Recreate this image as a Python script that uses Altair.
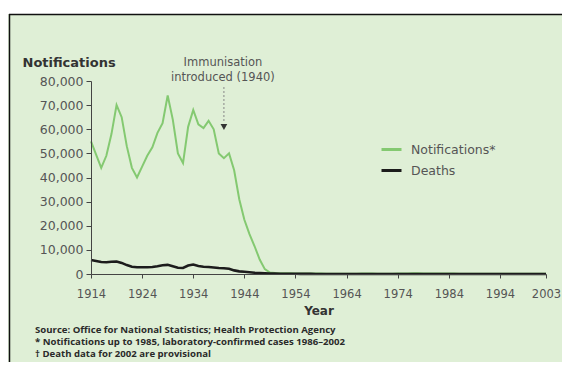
import altair as alt
import pandas as pd

# ---------------- data ----------------
years = list(range(1914, 2004))

notifications = [
    55000, 49500, 44000, 49000, 58000, 70000, 65000, 53000, 44000, 40000,   # 1914-1923
    44500, 49000, 52500, 58500, 62500, 74000, 64000, 50000, 46000, 61000,   # 1924-1933
    68000, 62000, 60500, 63500, 60000, 50000, 48000, 50000, 43000, 31000,   # 1934-1943
    22500, 16500, 11500, 6000, 2000, 600, 400, 350, 300, 300,               # 1944-1953
    250, 250, 200, 200, 200, 200, 150, 150, 150, 150,                       # 1954-1963
    150, 150, 150, 200, 200, 200, 150, 150, 150, 150,                       # 1964-1973
    200, 250, 250, 300, 300, 250, 250, 200, 200, 250,                       # 1974-1983
    250, 200, 150, 150, 150, 150, 150, 100, 100, 100,                       # 1984-1993
    100, 100, 100, 100, 100, 100, 100, 100, 100, 100,                       # 1994-2003
]

deaths = [
    5800, 5400, 5000, 4900, 5100, 5200, 4600, 3700, 3000, 2800,   # 1914-1923
    2800, 2800, 2900, 3200, 3600, 3800, 3200, 2600, 2500, 3500,   # 1924-1933
    3900, 3300, 3000, 2900, 2700, 2500, 2400, 2200, 1500, 1100,   # 1934-1943
    900, 700, 500, 400, 300, 200, 150, 120, 100, 100,             # 1944-1953
    80, 60, 50, 40, 30, 30, 30, 30, 30, 30,                       # 1954-1963
    20, 20, 20, 20, 20, 20, 20, 20, 20, 20,                       # 1964-1973
    10, 10, 10, 10, 10, 10, 10, 10, 10, 10,                       # 1974-1983
    10, 10, 10, 10, 10, 10, 10, 10, 10, 10,                       # 1984-1993
    5, 5, 5, 5, 5, 5, 5, 5, 5, 5,                                 # 1994-2003
]

series_names = ["Notifications*", "Deaths"]
series_colors = ["#84c971", "#1c1c1c"]

x_tick_years = [1914, 1924, 1934, 1944, 1954, 1964, 1974, 1984, 1994, 2003]
y_ticks = [0, 10000, 20000, 30000, 40000, 50000, 60000, 70000, 80000]

annotation_year = 1940
annotation_text = "Immunisation\nintroduced (1940)"

footer_lines = [
    "Source: Office for National Statistics; Health Protection Agency",
    "* Notifications up to 1985, laboratory-confirmed cases 1986\u20132002",
    "\u2020 Death data for 2002 are provisional",
]

assert len(notifications) == len(years) == len(deaths)

df = pd.DataFrame({
    "Year": years * 2,
    "Value": notifications + deaths,
    "Series": [series_names[0]] * len(years) + [series_names[1]] * len(years),
})

BG = "#dfefd6"
LABEL_FONT = "DejaVu Sans"

x_enc = alt.X(
    "Year:Q",
    scale=alt.Scale(domain=[1914, 2003], nice=False, zero=False),
    axis=alt.Axis(
        values=x_tick_years, format="d", title="Year",
        labelFont=LABEL_FONT, labelFontSize=11.5, labelColor="#555555",
        labelPadding=10, tickSize=4, tickColor="#444444", labelFlush=False,
        labelOverlap=False,
        domainColor="#444444", grid=False, zindex=1,
        titleFont=LABEL_FONT, titleFontSize=12, titleFontWeight="bold",
        titleColor="#333333", titlePadding=6,
    ),
)
y_enc = alt.Y(
    "Value:Q",
    scale=alt.Scale(domain=[0, 80000], nice=False),
    axis=alt.Axis(
        values=y_ticks, format=",.0f", title="Notifications",
        labelFont=LABEL_FONT, labelFontSize=12.5, labelColor="#555555",
        labelPadding=3, tickSize=5, tickColor="#444444", labelFlush=False,
        labelOverlap=False,
        domainColor="#444444", grid=False, zindex=1,
        titleFont=LABEL_FONT, titleFontSize=13, titleFontWeight="bold",
        titleColor="#333333", titleAngle=0, titleAlign="left",
        titleBaseline="middle", titleX=-69, titleY=-19,
    ),
)
color_enc = alt.Color(
    "Series:N",
    scale=alt.Scale(domain=series_names, range=series_colors),
    legend=alt.Legend(
        title=None, orient="none", legendX=289, legendY=57,
        symbolType="stroke", symbolSize=400, symbolStrokeWidth=3,
        labelFont=LABEL_FONT, labelFontSize=12.5, labelColor="#555555",
        labelOffset=8, rowPadding=3, padding=0,
    ),
)

base = alt.Chart(df)

notif_line = base.transform_filter(
    alt.datum.Series == series_names[0]
).mark_line(strokeWidth=2).encode(x=x_enc, y=y_enc, color=color_enc)

death_line = base.transform_filter(
    alt.datum.Series == series_names[1]
).mark_line(strokeWidth=2.6).encode(x=x_enc, y=y_enc, color=color_enc)

annot_df = pd.DataFrame({"Year": [annotation_year], "label": [annotation_text]})
annot_base = alt.Chart(annot_df)

annot_text = annot_base.mark_text(
    lineBreak="\n", font=LABEL_FONT, fontSize=11.5, color="#555555",
    align="center", baseline="top", lineHeight=15, dx=-1,
).encode(x="Year:Q", y=alt.value(-24), text="label:N")

annot_rule = annot_base.mark_rule(
    strokeDash=[2, 2], color="#888888", strokeWidth=1
).encode(x=alt.X("Year:Q"), y=alt.value(6), y2=alt.value(42))

annot_arrow = annot_base.mark_point(
    shape="triangle-down", filled=True, size=45, color="#333333", opacity=1
).encode(x="Year:Q", y=alt.value(46))

# footer (source and notes)
footer_df = pd.DataFrame({"note": ["\n".join(footer_lines)]})
footer = alt.Chart(footer_df).mark_text(
    lineBreak="\n", font="Open Sans", fontSize=9.6, fontWeight="bold",
    color="#2a2a2a", align="left", baseline="middle", lineHeight=12,
).encode(x=alt.value(-56), y=alt.value(249), text="note:N")

# decorative frame: white strip above and thin black border (top and left)
frame_df = pd.DataFrame({"k": [0]})
frame = alt.Chart(frame_df)
top_strip = frame.mark_rect(color="white").encode(
    x=alt.value(-83), x2=alt.value(480), y=alt.value(-73), y2=alt.value(-67)
)
top_border = frame.mark_rule(color="#111111", strokeWidth=1.5).encode(
    x=alt.value(-82), x2=alt.value(480), y=alt.value(-66.5)
)
left_border = frame.mark_rule(color="#111111", strokeWidth=1.5).encode(
    x=alt.value(-81.5), y=alt.value(-67), y2=alt.value(300)
)

chart = alt.layer(
    top_strip, top_border, left_border,
    notif_line, death_line, annot_rule, annot_arrow, annot_text, footer,
).properties(
    width=455,
    height=193,
    padding={"left": 83, "top": 73, "right": 16, "bottom": 88},
    autosize=alt.AutoSizeParams(type="none"),
    background=BG,
).configure_view(stroke=None)

chart.save("out.html", embed_options={"renderer": "svg", "actions": False})
